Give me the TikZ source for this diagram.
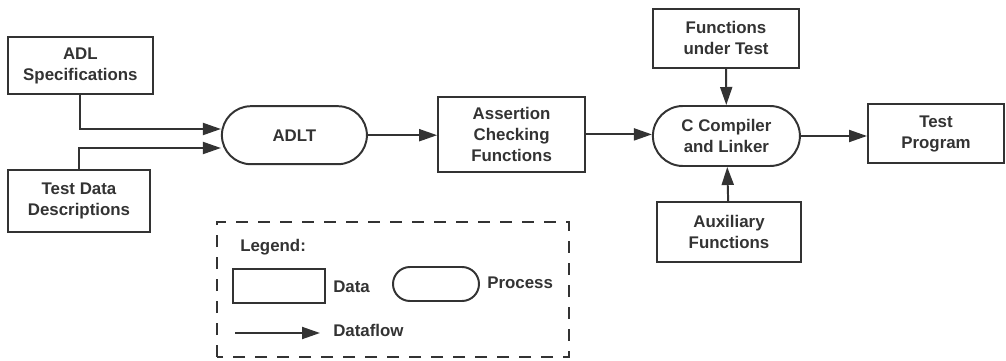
\documentclass[tikz,border=0pt]{standalone}
\usepackage{fontspec}
\setmainfont{Liberation Sans}
\usetikzlibrary{shapes.misc,arrows.meta}

\definecolor{ink}{HTML}{333333}
\tikzset{
  datbox/.style={draw=ink, line width=1.4pt, rectangle, align=center, inner sep=0pt},
  procbox/.style={draw=ink, line width=1.4pt, rounded rectangle, align=center, inner sep=0pt},
  flow/.style={draw=ink, line width=1.4pt, -{Triangle[length=4.5mm,width=3mm]}},
  lbl/.style={anchor=west, inner sep=0pt},
}

\begin{document}
\begin{tikzpicture}[every node/.style={text=ink, font=\fontsize{12}{15}\selectfont\bfseries}]
\useasboundingbox (0,0) rectangle (25.15,9);
% inputs
\node[datbox, minimum width=3.625cm, minimum height=1.425cm] (spec) at (2.01,7.36) {ADL\\Specifications};
\node[datbox, minimum width=3.55cm, minimum height=1.55cm] (tdd) at (1.975,3.975) {Test Data\\Descriptions};
\node[procbox, minimum width=3.625cm, minimum height=1.45cm] (adlt) at (7.36,5.62) {ADLT};
\node[datbox, minimum width=3.675cm, minimum height=1.875cm] (acf) at (12.79,5.64) {Assertion\\Checking\\Functions};
% compile step
\node[procbox, minimum width=3.675cm, minimum height=1.5cm] (ccl) at (18.16,5.6) {C Compiler\\and Linker};
\node[datbox, minimum width=3.65cm, minimum height=1.475cm] (fut) at (18.15,8.04) {Functions\\under Test};
\node[datbox, minimum width=3.6cm, minimum height=1.5cm] (aux) at (18.225,3.2) {Auxiliary\\Functions};
\node[datbox, minimum width=3.4cm, minimum height=1.475cm] (tp) at (23.4,5.66) {Test\\Program};

\draw[flow] (spec.south) |- ([yshift=0.155cm]adlt.west);
\draw[flow] (tdd.north) |- ([yshift=-0.32cm]adlt.west);
\draw[flow] (adlt.east) -- (adlt.east -| acf.west);
\draw[flow] (acf.east) -- (acf.east -| ccl.west);
\draw[flow] (fut) -- (ccl);
\draw[flow] (aux) -- (ccl);
\draw[flow] (ccl.east) -- (ccl.east -| tp.west);

% legend
\draw[ink, line width=1.1pt, dash pattern=on 0.3cm off 0.25cm] (5.425,0.075) rectangle (14.225,3.45);
\node[lbl] (leg) at (6.0,2.825) {Legend:};
\node[datbox, minimum width=2.3cm, minimum height=0.85cm] (ldat) at (6.975,1.85) {};
\node[lbl] (ldattxt) at (8.325,1.825) {Data};
\node[procbox, minimum width=2.15cm, minimum height=0.85cm] (lproc) at (10.9,1.9) {};
\node[lbl] (lproctxt) at (12.175,1.925) {Process};
\coordinate (lfa) at (5.875,0.675);
\node[lbl] (lflowtxt) at (8.325,0.75) {Dataflow};
\draw[flow] (lfa) -- (lfa -| 8.0,0);
\end{tikzpicture}
\end{document}
